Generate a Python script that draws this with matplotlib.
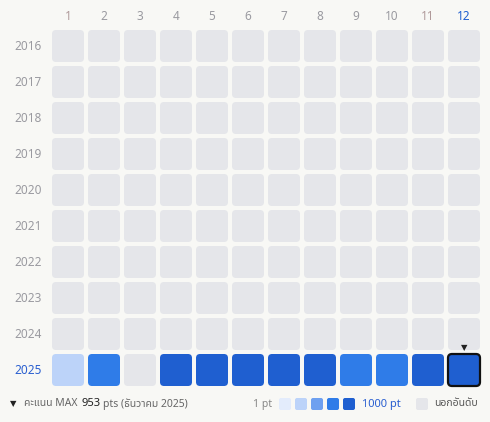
import matplotlib
matplotlib.use("Agg")
import matplotlib.pyplot as plt
from matplotlib.patches import FancyBboxPatch
import logging
logging.getLogger("matplotlib.font_manager").setLevel(logging.ERROR)

plt.rcParams['font.family'] = ['Noto Sans Thai', 'Noto Sans', 'DejaVu Sans']

years = list(range(2016, 2026))
months = list(range(1, 13))
# colour level per month for 2025 (0 = not ranked)
levels_2025 = [2, 4, 0, 5, 5, 5, 5, 5, 4, 4, 5, 5]
legend_colors = ['#e3ecfc', '#bcd3f9', '#6ea0f0', '#2f7ce8', '#1f5fd0']
empty = '#e5e6ea'
bg = '#f8f8f5'

fig = plt.figure(figsize=(4.9, 4.22), dpi=100, facecolor=bg)
ax = fig.add_axes([0, 0, 1, 1])
ax.set_xlim(0, 490)
ax.set_ylim(422, 0)
ax.axis('off')

x0, y0, pitch, size = 52, 30, 36, 32
for r, yr in enumerate(years):
    for c, m in enumerate(months):
        lv = levels_2025[c] if yr == 2025 else 0
        col = legend_colors[lv - 1] if lv else empty
        x, y = x0 + c * pitch, y0 + r * pitch
        ax.add_patch(FancyBboxPatch((x + 2, y + 2), size - 4, size - 4,
                                    boxstyle="round,pad=2,rounding_size=4",
                                    fc=col, ec='none'))
    bold = yr == 2025
    ax.text(42, y0 + r * pitch + size / 2, str(yr), ha='right', va='center',
            fontsize=8.5, color='#2a5fd0' if bold else '#9a9aa0',
            fontweight='bold' if bold else 'normal')

for c, m in enumerate(months):
    last = m == 12
    col = '#1f5fd0' if last else ('#b09a9a' if m in (1, 11) else '#9a9aa0')
    ax.text(x0 + c * pitch + size / 2, 17, str(m), ha='center', va='center',
            fontsize=8.5, color=col, fontweight='bold' if last else 'normal')

# highlight max month
hx, hy = x0 + 11 * pitch, y0 + 9 * pitch
ax.add_patch(FancyBboxPatch((hx + 1, hy + 1), size - 2, size - 2,
                            boxstyle="round,pad=1,rounding_size=4",
                            fc='none', ec='#111111', lw=1.6))
ax.text(hx + size / 2, hy - 6, '▼', ha='center', va='center', fontsize=6, color='#222')

# footer
ax.text(10, 404, '▼', ha='left', va='center', fontsize=6, color='#222')
ax.text(24, 404, 'คะแนน MAX ', ha='left', va='center', fontsize=7.5, color='#666')
t = ax.text(81, 404, '953', ha='left', va='center', fontsize=8, color='#222', fontweight='bold')
ax.text(103, 404, 'pts (ธันวาคม 2025)', ha='left', va='center', fontsize=7.5, color='#666')
ax.text(272, 404, '1 pt', ha='right', va='center', fontsize=7.5, color='#888')
for i, col in enumerate(legend_colors):
    ax.add_patch(FancyBboxPatch((279 + i * 16, 398), 12, 12,
                                boxstyle="round,pad=0,rounding_size=2", fc=col, ec='none'))
ax.text(362, 404, '1000 pt', ha='left', va='center', fontsize=8, color='#2a5fd0', fontweight='bold')
ax.add_patch(FancyBboxPatch((416, 398), 12, 12,
                            boxstyle="round,pad=0,rounding_size=2", fc=empty, ec='none'))
ax.text(434, 404, 'นอกอันดับ', ha='left', va='center', fontsize=7.5, color='#555')

fig.savefig('out.png', dpi=100, facecolor=bg)
